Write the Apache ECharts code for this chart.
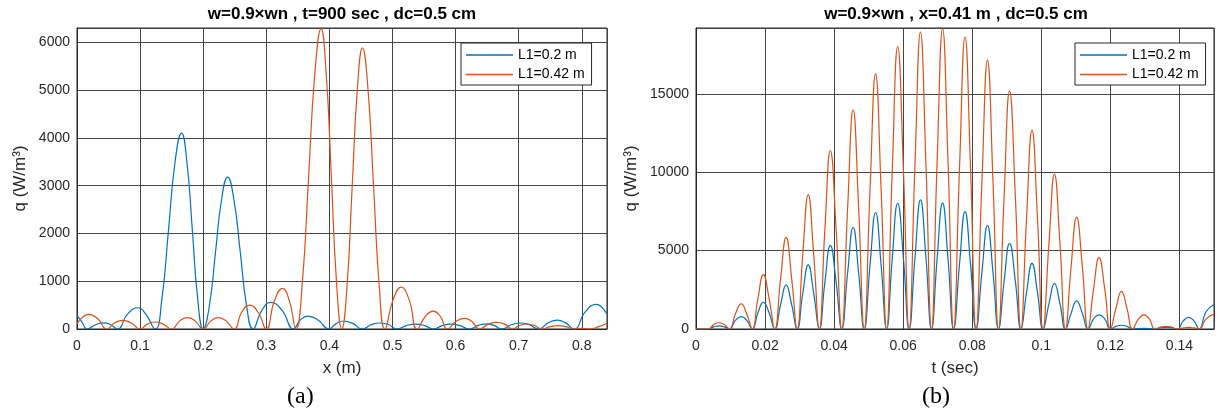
<!DOCTYPE html>
<html>
<head>
<meta charset="utf-8">
<script src="https://cdn.jsdelivr.net/npm/echarts@6/dist/echarts.min.js"></script>
<style>
  html, body { margin: 0; padding: 0; background: #fff; }
  #chart { width: 1217px; height: 415px; }
</style>
</head>
<body>
<div id="chart"></div>
<script>
// (a) q along x, t=900 sec
const blueAX = [0, 0.008, 0.016, 0.0295, 0.043, 0.0535, 0.064, 0.080, 0.0965, 0.109, 0.124, 0.1344, 0.1449, 0.1553, 0.1657, 0.1743, 0.1829, 0.1914, 0.2, 0.2097, 0.2194, 0.229, 0.2387, 0.2488, 0.2589, 0.2689, 0.279, 0.293, 0.307, 0.325, 0.343, 0.354, 0.3657, 0.382, 0.399, 0.411, 0.4225, 0.437, 0.452, 0.466, 0.4795, 0.494, 0.507, 0.522, 0.537, 0.551, 0.565, 0.579, 0.592, 0.607, 0.622, 0.636, 0.649, 0.661, 0.673, 0.688, 0.7035, 0.717, 0.732, 0.7465, 0.761, 0.7745, 0.788, 0.8055, 0.823, 0.84];
const blueAY = [280, 145, 0, 90, 130, 90, 0, 310, 445, 310, 0, 615, 2050, 3485, 4100, 3485, 2050, 615, 0, 477, 1590, 2700, 3180, 2700, 1590, 477, 0, 390, 556, 390, 0, 190, 270, 190, 0, 117, 167, 117, 0, 88, 126, 88, 0, 72, 103, 72, 0, 70, 100, 70, 0, 75, 108, 75, 0, 88, 126, 88, 0, 128, 185, 128, 0, 360, 516, 310];
const orangeAX = [0, 0.0188, 0.033, 0.047, 0.0595, 0.072, 0.086, 0.1, 0.1115, 0.123, 0.1365, 0.15, 0.1625, 0.175, 0.1875, 0.2, 0.212, 0.224, 0.2365, 0.249, 0.261, 0.2735, 0.287, 0.3, 0.313, 0.3258, 0.3365, 0.347, 0.357, 0.3669, 0.3769, 0.3868, 0.395, 0.4033, 0.4115, 0.4197, 0.4279, 0.436, 0.4442, 0.4524, 0.4613, 0.4702, 0.4791, 0.488, 0.501, 0.5137, 0.5265, 0.539, 0.552, 0.5646, 0.576, 0.587, 0.6005, 0.614, 0.626, 0.638, 0.6515, 0.665, 0.6785, 0.69, 0.7015, 0.7133, 0.725, 0.737, 0.75, 0.7635, 0.775, 0.787, 0.8, 0.812, 0.828, 0.84];
const orangeAY = [105, 305, 215, 0, 126, 180, 126, 0, 102, 146, 102, 0, 165, 236, 165, 0, 165, 236, 165, 0, 350, 500, 350, 0, 595, 850, 595, 0, 940, 3140, 5340, 6280, 5340, 3140, 940, 0, 880, 2940, 5000, 5885, 5000, 2940, 880, 0, 610, 875, 610, 0, 262, 375, 262, 0, 155, 222, 155, 0, 97, 139, 97, 0, 73, 105, 73, 0, 50, 70, 50, 0, 12, 0, 55, 115];

// (b) q along t, x=0.41 m (both curves share the same t points)
const timeB = [0, 0.0035, 0.0051, 0.0067, 0.0082, 0.0097, 0.0114, 0.0131, 0.0147, 0.0163, 0.0179, 0.0195, 0.0212, 0.0228, 0.0245, 0.0261, 0.0277, 0.0293, 0.0309, 0.0325, 0.0341, 0.0357, 0.0373, 0.0389, 0.0406, 0.0422, 0.0439, 0.0455, 0.0471, 0.0487, 0.0504, 0.052, 0.0536, 0.0552, 0.0568, 0.0584, 0.0601, 0.0617, 0.0634, 0.065, 0.0666, 0.0682, 0.0698, 0.0714, 0.073, 0.0746, 0.0763, 0.0779, 0.0795, 0.0811, 0.0828, 0.0844, 0.086, 0.0876, 0.0892, 0.0908, 0.0925, 0.0941, 0.0957, 0.0973, 0.0989, 0.1005, 0.1022, 0.1038, 0.1054, 0.107, 0.1086, 0.1102, 0.1119, 0.1135, 0.1151, 0.1167, 0.1184, 0.12, 0.1216, 0.1232, 0.1248, 0.1264, 0.1281, 0.1297, 0.1313, 0.1329, 0.1345, 0.1361, 0.1378, 0.1394, 0.1411, 0.1427, 0.1442, 0.1457, 0.1477, 0.15];
const blueB = [0, 0, 140, 200, 140, 0, 550, 790, 550, 0, 1020, 1700, 1020, 0, 1550, 2810, 1550, 0, 2250, 4085, 2250, 0, 2940, 5340, 2940, 0, 3570, 6490, 3570, 0, 4090, 7430, 4090, 0, 4410, 8020, 4410, 0, 4530, 8235, 4530, 0, 4420, 8045, 4420, 0, 4120, 7490, 4120, 0, 3630, 6600, 3630, 0, 3010, 5470, 3010, 0, 2300, 4190, 2300, 0, 1600, 2915, 1600, 0, 985, 1790, 985, 0, 630, 895, 630, 0, 170, 240, 170, 0, 30, 40, 30, 0, 80, 110, 80, 0, 520, 745, 520, 0, 1100, 1560];
const orangeB = [0, 0, 280, 400, 280, 0, 960, 1600, 960, 0, 1910, 3470, 1910, 0, 3220, 5850, 3220, 0, 4700, 8550, 4700, 0, 6260, 11385, 6260, 0, 7690, 13980, 7690, 0, 8950, 16280, 8950, 0, 9910, 18020, 9910, 0, 10420, 18940, 10420, 0, 10530, 19150, 10530, 0, 10240, 18620, 10240, 0, 9430, 17150, 9430, 0, 8340, 15170, 8340, 0, 6970, 12680, 6970, 0, 5430, 9875, 5430, 0, 3920, 7130, 3920, 0, 2500, 4550, 2500, 0, 1320, 2405, 1320, 0, 630, 895, 630, 0, 120, 170, 120, 0, 70, 100, 70, 0, 650, 950];

const seriesNames = ['L1=0.2 m', 'L1=0.42 m'];
const xTicksA = [0, 0.1, 0.2, 0.3, 0.4, 0.5, 0.6, 0.7, 0.8];
const yTicksA = [0, 1000, 2000, 3000, 4000, 5000, 6000];
const xTicksB = [0, 0.02, 0.04, 0.06, 0.08, 0.1, 0.12, 0.14];
const yTicksB = [0, 5000, 10000, 15000];

const blue = '#0072BD';
const orange = '#D95319';
const font = "'Liberation Sans', Arial, Helvetica, sans-serif";
const ink = '#262626';

// only print the ticks listed above
function tickFmt(ticks) {
    return function (v) {
        for (let i = 0; i < ticks.length; i++) {
            if (Math.abs(ticks[i] - v) < 1e-9) return String(ticks[i]);
        }
        return '';
    };
}

function pairs(xs, ys) {
    return xs.map((x, i) => [x, ys[i]]);
}

function xAxisOf(idx, max, interval, ticks, name) {
    return {
        gridIndex: idx, type: 'value', min: 0, max: max, interval: interval,
        name: name, nameLocation: 'middle', nameGap: 31,
        nameTextStyle: { fontSize: 17, color: ink, fontFamily: font },
        axisLine: { show: true, lineStyle: { color: ink, width: 1 } },
        axisTick: { show: false },
        axisLabel: { color: ink, fontSize: 14, margin: 10, fontFamily: font, formatter: tickFmt(ticks) },
        splitLine: { show: true, lineStyle: { color: '#444', width: 1 } }
    };
}

function yAxisOf(idx, max, interval, ticks, gap) {
    return {
        gridIndex: idx, type: 'value', min: 0, max: max, interval: interval,
        name: 'q (W/m³)', nameLocation: 'middle', nameGap: gap, nameRotate: 90,
        nameTextStyle: { fontSize: 17, color: ink, fontFamily: font },
        axisLine: { show: true, lineStyle: { color: ink, width: 1 } },
        axisTick: { show: false },
        axisLabel: { color: ink, fontSize: 14, margin: 7, fontFamily: font, formatter: tickFmt(ticks) },
        splitLine: { show: true, lineStyle: { color: '#444', width: 1 } }
    };
}

function lineOf(name, idx, data, color) {
    return {
        name: name, type: 'line', xAxisIndex: idx, yAxisIndex: idx,
        data: data, showSymbol: false, smooth: 0.5,
        lineStyle: { color: color, width: 1.2 }, itemStyle: { color: color },
        emphasis: { disabled: true }
    };
}

function legendOf(left) {
    return {
        left: left, top: 43, orient: 'vertical', data: seriesNames,
        icon: 'rect', itemWidth: 47, itemHeight: 1.5, itemGap: 5.5,
        backgroundColor: '#fff', borderColor: ink, borderWidth: 1,
        padding: [5, 7, 3.5, 5], selectedMode: false,
        textStyle: { fontSize: 14, color: '#000', fontFamily: font }
    };
}

const chart = echarts.init(document.getElementById('chart'));
chart.setOption({
    backgroundColor: '#fff',
    animation: false,
    title: [
        { text: 'w=0.9×wn , t=900 sec , dc=0.5 cm', left: 342, top: 6, textAlign: 'center', padding: 0,
          textStyle: { fontSize: 17, fontWeight: 'bold', color: '#000', fontFamily: font } },
        { text: 'w=0.9×wn , x=0.41 m , dc=0.5 cm', left: 956, top: 6, textAlign: 'center', padding: 0,
          textStyle: { fontSize: 17, fontWeight: 'bold', color: '#000', fontFamily: font } }
    ],
    grid: [
        { left: 77, top: 28, width: 530, height: 301, show: true, borderColor: ink, borderWidth: 1, backgroundColor: '#fff' },
        { left: 696, top: 28, width: 520, height: 301, show: true, borderColor: ink, borderWidth: 1, backgroundColor: '#fff' }
    ],
    xAxis: [
        xAxisOf(0, 0.84, 0.1, xTicksA, 'x (m)'),
        xAxisOf(1, 0.15, 0.02, xTicksB, 't (sec)')
    ],
    yAxis: [
        yAxisOf(0, 6300, 1000, yTicksA, 48),
        yAxisOf(1, 19200, 5000, yTicksB, 56)
    ],
    legend: [legendOf(461), legendOf(1075)],
    series: [
        lineOf(seriesNames[0], 0, pairs(blueAX, blueAY), blue),
        lineOf(seriesNames[1], 0, pairs(orangeAX, orangeAY), orange),
        lineOf(seriesNames[0], 1, pairs(timeB, blueB), blue),
        lineOf(seriesNames[1], 1, pairs(timeB, orangeB), orange)
    ],
    graphic: [
        { type: 'text', left: 287, top: 385, style: { text: '(a)', fontSize: 24, fill: '#000', fontFamily: "'Liberation Serif', 'Times New Roman', serif" } },
        { type: 'text', left: 922, top: 385, style: { text: '(b)', fontSize: 24, fill: '#000', fontFamily: "'Liberation Serif', 'Times New Roman', serif" } }
    ]
});

window.addEventListener('resize', () => chart.resize());
</script>
</body>
</html>
